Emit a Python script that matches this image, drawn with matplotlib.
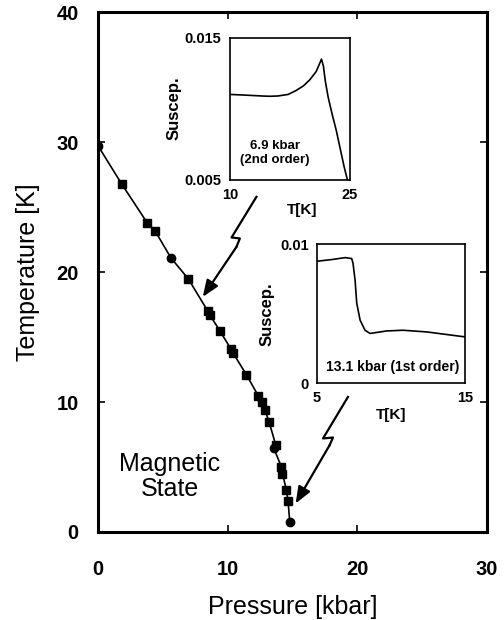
import matplotlib
matplotlib.use("Agg")
import matplotlib.pyplot as plt

plt.rcParams['font.family'] = ['Liberation Sans', 'DejaVu Sans']

# phase boundary: pressure [kbar], temperature [K]
sq_p = [1.80, 3.78, 4.37, 6.94, 8.46, 8.61, 9.38, 10.23, 10.39, 11.44,
        12.34, 12.62, 12.86, 13.18, 13.70, 14.14, 14.22, 14.53, 14.65]
sq_t = [26.8, 23.8, 23.2, 19.5, 17.0, 16.7, 15.5, 14.1, 13.8, 12.1,
        10.5, 10.0, 9.4, 8.5, 6.7, 5.0, 4.5, 3.2, 2.4]
ci_p = [0.0, 5.61, 13.55, 14.78]
ci_t = [29.7, 21.1, 6.45, 0.8]

# inset 1: 6.9 kbar susceptibility
t1 = [10.0, 12.0, 14.0, 15.0, 16.0, 17.3, 18.3, 19.2, 20.0, 20.8, 21.25,
      21.46, 21.7, 21.95, 22.3, 22.8, 23.3, 23.8, 24.3, 24.7]
chi1 = [0.0110, 0.01095, 0.01089, 0.01087, 0.01089, 0.01100, 0.01128,
        0.01160, 0.01203, 0.01261, 0.0132, 0.01348, 0.01300, 0.01190,
        0.01080, 0.00960, 0.00850, 0.00720, 0.00590, 0.0050]

# inset 2: 13.1 kbar susceptibility
t2 = [5.0, 6.0, 6.9, 7.34, 7.43, 7.57, 7.68, 7.91, 8.24, 8.58, 9.7,
      10.8, 12.4, 15.0]
chi2 = [0.00878, 0.00890, 0.00904, 0.00897, 0.00863, 0.00741, 0.00576,
        0.00453, 0.00381, 0.00358, 0.00376, 0.00381, 0.00369, 0.00333]

fig = plt.figure(figsize=(5.04, 6.2), dpi=100)
ax = fig.add_axes([0.195, 0.142, 0.771, 0.838])

# line through all points, ordered by temperature
pts = sorted(zip(sq_t + ci_t, sq_p + ci_p), reverse=True)
ax.plot([p for t, p in pts], [t for t, p in pts], color='black', lw=1.2)
ax.plot(sq_p, sq_t, 's', color='black', ms=6)
ax.plot(ci_p, ci_t, 'o', color='black', ms=6)

ax.set_xlim(0, 30)
ax.set_ylim(0, 40)
ax.set_xticks([0, 10, 20, 30])
ax.set_yticks([0, 10, 20, 30, 40])
ax.tick_params(direction='in', length=5, width=1.2, top=True, right=True,
               labelsize=14.5, pad=14)
ax.tick_params(axis='x', pad=20)
for lab in ax.get_xticklabels() + ax.get_yticklabels():
    lab.set_fontweight('bold')
for s in ax.spines.values():
    s.set_linewidth(2.2)
ax.set_xlabel('Pressure [kbar]', fontsize=18, labelpad=12)
ax.set_ylabel('Temperature [K]', fontsize=18, labelpad=12)
ax.text(5.5, 4.3, 'Magnetic\nState', fontsize=18, ha='center', va='center',
        linespacing=1.05)

# arrows with a zigzag
def zig_arrow(pts_list):
    xs = [p[0] for p in pts_list[:-1]]
    ys = [p[1] for p in pts_list[:-1]]
    ax.plot(xs, ys, color='black', lw=1.6, solid_joinstyle='round')
    ax.annotate('', xy=pts_list[-1], xytext=pts_list[-2],
                arrowprops=dict(arrowstyle='-|>,head_length=1.0,head_width=0.4',
                                color='black', lw=1.6, shrinkA=0, shrinkB=0))

zig_arrow([(12.21, 25.8), (10.29, 22.67), (10.93, 22.6), (10.67, 21.95), (8.07, 18.1)])
zig_arrow([(19.28, 10.4), (17.35, 7.2), (18.12, 7.27), (17.86, 6.68), (15.24, 2.2)])

# inset 1
ax1 = fig.add_axes([0.456, 0.710, 0.238, 0.2295])
ax1.plot(t1, chi1, color='black', lw=1.2)
ax1.set_xlim(10, 25)
ax1.set_ylim(0.005, 0.015)
ax1.set_xticks([10, 25])
ax1.set_yticks([0.005, 0.015])
ax1.set_yticklabels(['0.005', '0.015'])
ax1.tick_params(length=0, labelsize=10.5, pad=6)
ax1.set_ylabel('Suscep.', fontsize=12, fontweight='bold', labelpad=2)
ax1.set_xlabel('T[K]', fontsize=11, fontweight='bold', labelpad=2)
ax1.xaxis.set_label_coords(0.6, -0.16)
ax1.text(0.375, 0.19, '6.9 kbar\n(2nd order)', transform=ax1.transAxes,
         fontsize=9.5, fontweight='bold', ha='center', va='center')

# inset 2
ax2 = fig.add_axes([0.629, 0.382, 0.294, 0.224])
ax2.plot(t2, chi2, color='black', lw=1.2)
ax2.set_xlim(5, 15)
ax2.set_ylim(0, 0.01)
ax2.set_xticks([5, 15])
ax2.set_yticks([0, 0.01])
ax2.set_yticklabels(['0', '0.01'])
ax2.tick_params(length=0, labelsize=10.5, pad=6)
ax2.set_ylabel('Suscep.', fontsize=12, fontweight='bold', labelpad=4)
ax2.set_xlabel('T[K]', fontsize=11, fontweight='bold', labelpad=2)
ax2.text(0.51, 0.117, '13.1 kbar (1st order)', transform=ax2.transAxes,
         fontsize=10, fontweight='bold', ha='center', va='center')

for a in (ax1, ax2):
    for lab in a.get_xticklabels() + a.get_yticklabels():
        lab.set_fontweight('bold')
    for s in a.spines.values():
        s.set_linewidth(1.2)

fig.savefig('out.png', dpi=100)
